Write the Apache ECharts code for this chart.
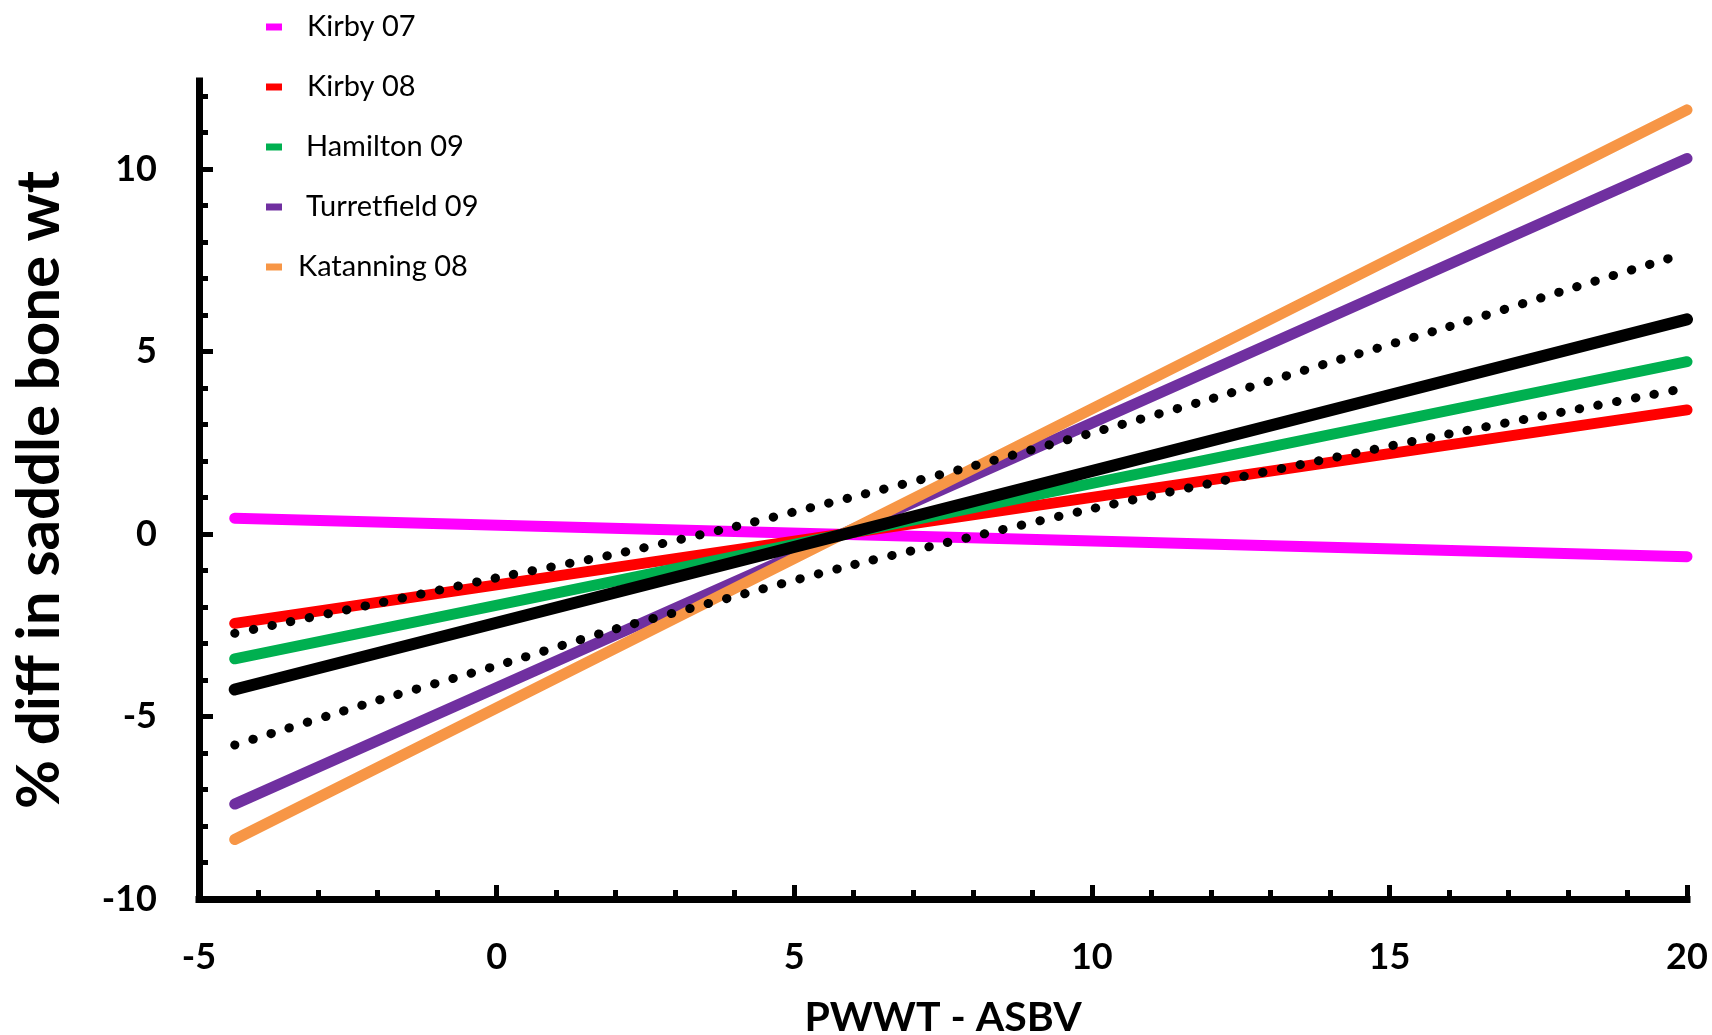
<!DOCTYPE html>
<html><head><meta charset="utf-8">
<script src="https://cdn.jsdelivr.net/npm/echarts@6/dist/echarts.min.js"></script>
<style>html,body{margin:0;padding:0;background:#fff}#c{width:1712px;height:1035px}</style>
</head><body><div id="c"></div>
<script>
// line end points (x) and values at those ends
const xEnds = [-4.4, 20];
const kirby07 = [0.43, -0.62];
const kirby08 = [-2.45, 3.40];
const hamilton09 = [-3.42, 4.72];
const turretfield09 = [-7.40, 10.29];
const katanning08 = [-8.37, 11.62];
const overall = [-4.26, 5.88];
// dotted confidence band
const bandX = [-4.4, -2, 0, 2, 4, 6, 8, 10, 12, 14, 16, 18, 19.8];
const upperBand = [-2.72, -1.90, -1.20, -0.55, 0.20, 1.02, 1.86, 2.77, 3.70, 4.70, 5.68, 6.70, 7.60];
const lowerBand = [-5.78, -4.56, -3.61, -2.60, -1.71, -0.84, -0.07, 0.69, 1.39, 2.07, 2.74, 3.37, 3.94];
const seriesNames = ['Kirby 07', 'Kirby 08', 'Hamilton 09', 'Turretfield 09', 'Katanning 08'];
const seriesValues = [kirby07, kirby08, hamilton09, turretfield09, katanning08];
const seriesColors = ['#FF00FF', '#FF0000', '#00B050', '#7030A0', '#F79646'];
const legendTextIndent = [20, 20, 19, 19, 11];
const xTitle = 'PWWT - ASBV';
const yTitle = '% diff in saddle bone wt';

const zip = (xs, ys) => xs.map((x, i) => [x, ys[i]]);
const chart = echarts.init(document.getElementById('c'), null, {renderer: 'canvas'});

const tickFont = {fontFamily: 'Lato', fontWeight: 'bold', fontSize: 36, color: '#000'};
const titleFont = {fontFamily: 'Lato', fontWeight: 'bold', color: '#000'};
const axisLineStyle = {color: '#000', width: 7, cap: 'square'};

const series = seriesNames.map((n, i) => ({
  name: n, type: 'line', xAxisIndex: 0, yAxisIndex: 0,
  data: zip(xEnds, seriesValues[i]), showSymbol: false, symbol: 'none',
  color: seriesColors[i],
  lineStyle: {width: 11, color: seriesColors[i], cap: 'round'},
  z: 2
}));
series.push({
  name: 'Overall', type: 'line', data: zip(xEnds, overall), showSymbol: false, symbol: 'none',
  color: '#000', lineStyle: {width: 12, color: '#000', cap: 'round'}, z: 3
});
[upperBand, lowerBand].forEach((b, i) => series.push({
  name: i ? 'Lower' : 'Upper', type: 'line', data: zip(bandX, b), showSymbol: false, symbol: 'none',
  smooth: 0.2, color: '#000',
  lineStyle: {width: 9, color: '#000', cap: 'round', type: [0.5, 18.5]}, z: 4
}));

const gridBase = {left: 199, right: 25, bottom: 136, outerBoundsMode: 'none', containLabel: false};
const legendFont = {fontFamily: 'Lato', fontSize: 29, color: '#000', lineHeight: 30};

chart.setOption({
  animation: false,
  backgroundColor: '#fff',
  grid: [
    Object.assign({top: 96}, gridBase),
    Object.assign({top: 169}, gridBase),
    Object.assign({top: 81}, gridBase)
  ],
  legend: {
    orient: 'vertical', left: 261, top: 7, itemWidth: 16, itemHeight: 7, itemGap: 30,
    icon: 'rect',
    data: seriesNames.map((n, i) => ({name: n,
      textStyle: Object.assign({padding: [0, 0, 0, legendTextIndent[i]]}, legendFont)})),
    textStyle: Object.assign({padding: [0, 0, 0, 20]}, legendFont)
  },
  xAxis: [
    {gridIndex: 0, type: 'value', min: -5, max: 20, interval: 1,
     axisLine: {show: true, onZero: false, lineStyle: axisLineStyle},
     axisTick: {show: true, inside: true, length: 9, lineStyle: {color: '#000', width: 5}},
     axisLabel: {show: false}, splitLine: {show: false}},
    {gridIndex: 1, type: 'value', min: -5, max: 20, interval: 5,
     axisLine: {show: false, onZero: false},
     axisTick: {show: true, inside: true, length: 14, lineStyle: {color: '#000', width: 5}},
     axisLabel: Object.assign({margin: 40}, tickFont), splitLine: {show: false},
     name: xTitle, nameLocation: 'middle', nameGap: 98,
     nameTextStyle: Object.assign({fontSize: 41}, titleFont)},
    {gridIndex: 2, type: 'value', min: -5, max: 20, show: false, axisLine: {onZero: false}}
  ],
  yAxis: [
    {gridIndex: 0, type: 'value', min: -10, max: 12, interval: 1,
     axisLine: {show: false, onZero: false},
     axisTick: {show: true, inside: true, length: 9, lineStyle: {color: '#000', width: 5}},
     axisLabel: {show: false}, splitLine: {show: false}},
    {gridIndex: 1, type: 'value', min: -10, max: 10, interval: 5,
     axisLine: {show: false, onZero: false},
     axisTick: {show: true, inside: true, length: 14, lineStyle: {color: '#000', width: 5}},
     axisLabel: Object.assign({margin: 42}, tickFont), splitLine: {show: false}},
    {gridIndex: 2, type: 'value', min: -10, max: 12.44,
     axisLine: {show: true, onZero: false, lineStyle: axisLineStyle},
     axisTick: {show: false}, axisLabel: {show: false}, splitLine: {show: false},
     name: yTitle, nameLocation: 'middle', nameGap: 129,
     nameTextStyle: Object.assign({fontSize: 60}, titleFont)}
  ],
  series: series
});
</script></body></html>
